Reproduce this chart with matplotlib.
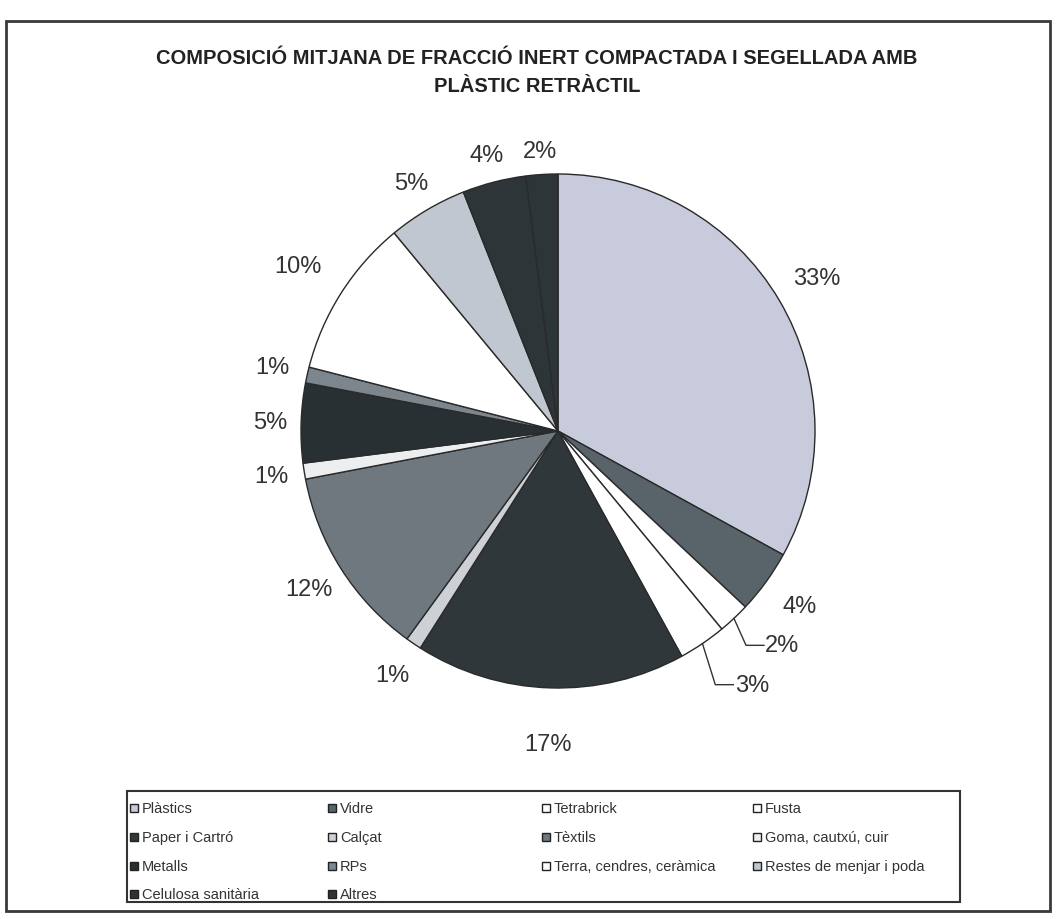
import numpy as np
import matplotlib.pyplot as plt
from matplotlib.patches import Rectangle

categories = ['Plàstics', 'Vidre', 'Tetrabrick', 'Fusta',
              'Paper i Cartró', 'Calçat', 'Tèxtils', 'Goma, cautxú, cuir',
              'Metalls', 'RPs', 'Terra, cendres, ceràmica', 'Restes de menjar i poda',
              'Celulosa sanitària', 'Altres']
values = [33, 4, 2, 3, 17, 1, 12, 1, 5, 1, 10, 5, 4, 2]
colors = ['#c7cbdc', '#59636a', '#ffffff', '#ffffff',
          '#2f373b', '#cdd1d6', '#6f787e', '#eceef0',
          '#283034', '#7e868d', '#ffffff', '#c1c7d1',
          '#2d3538', '#2d3538']
# distancia de cada etiqueta al centre (en radis)
label_r = [1.17, 1.16, 1.0, 1.0, 1.22, 1.15, 1.15, 1.13,
           1.12, 1.14, 1.2, 1.12, 1.11, 1.09]
# línies guia (baixada x, baixada y) per a les porcions petites
leader = {'Tetrabrick': (0.047, -0.105), 'Fusta': (0.05, -0.16)}

plt.rcParams['font.family'] = ['Liberation Sans', 'DejaVu Sans']

fig = plt.figure(figsize=(10.56, 9.2), dpi=100)
W, H = 1056.0, 920.0

def fx(px):
    return px / W

def fy(py):
    return 1 - py / H

# marc exterior
fig.add_artist(Rectangle((fx(6), fy(912)), 1044 / W, 890 / H,
                         transform=fig.transFigure, fill=False,
                         edgecolor='#3a3a3a', linewidth=2))

fig.text(fx(537), fy(58),
         'COMPOSICIÓ MITJANA DE FRACCIÓ INERT COMPACTADA I SEGELLADA AMB',
         ha='center', va='center', fontsize=14.5, fontweight='bold',
         color='#222222')
fig.text(fx(537), fy(86), 'PLÀSTIC RETRÀCTIL',
         ha='center', va='center', fontsize=14.5, fontweight='bold',
         color='#222222')

# eixos on 1 unitat = 257 px, centre a (558, 432)
R = 257.0
cx, cy = 558.0, 432.0
half = 400.0
ax = fig.add_axes([fx(cx - half), fy(cy + half), 2 * half / W, 2 * half / H])

wedges, _ = ax.pie(values, colors=colors, startangle=90, counterclock=False,
                   radius=1, wedgeprops=dict(edgecolor='#2a2a2a', linewidth=1))
ax.set_xlim(-half / R, half / R)
ax.set_ylim(-half / R, half / R)
ax.set_aspect('auto')
ax.axis('off')

for i, w in enumerate(wedges):
    ang = np.deg2rad((w.theta1 + w.theta2) / 2)
    txt = '%d%%' % values[i]
    ex, ey = np.cos(ang), np.sin(ang)
    if categories[i] in leader:
        ddx, ddy = leader[categories[i]]
        p2 = (ex + ddx, ey + ddy)
        p3 = (p2[0] + 0.07, p2[1])
        ax.plot([ex, p2[0], p3[0]], [ey, p2[1], p3[1]],
                color='#333333', linewidth=1)
        ax.text(p3[0] + 0.005, p3[1], txt, ha='left', va='center',
                fontsize=17, color='#333333')
    else:
        ax.text(ex * label_r[i], ey * label_r[i], txt, ha='center', va='center',
                fontsize=17, color='#333333')

# llegenda: 4 columnes, ordenada per files
fig.add_artist(Rectangle((fx(127), fy(903)), 833 / W, 111 / H,
                         transform=fig.transFigure, fill=False,
                         edgecolor='#333333', linewidth=1.5))
col_x = [130, 328, 542, 753]
row_y = [809, 838, 867, 895]
for k, name in enumerate(categories):
    r, c = divmod(k, 4)
    x, y = col_x[c], row_y[r]
    fig.add_artist(Rectangle((fx(x), fy(y + 4)), 8 / W, 8 / H,
                             transform=fig.transFigure, facecolor=colors[k],
                             edgecolor='#222222', linewidth=1))
    fig.text(fx(x + 12), fy(y), name, ha='left', va='center',
             fontsize=10.5, color='#333333')

plt.savefig('out.png', dpi=100)
